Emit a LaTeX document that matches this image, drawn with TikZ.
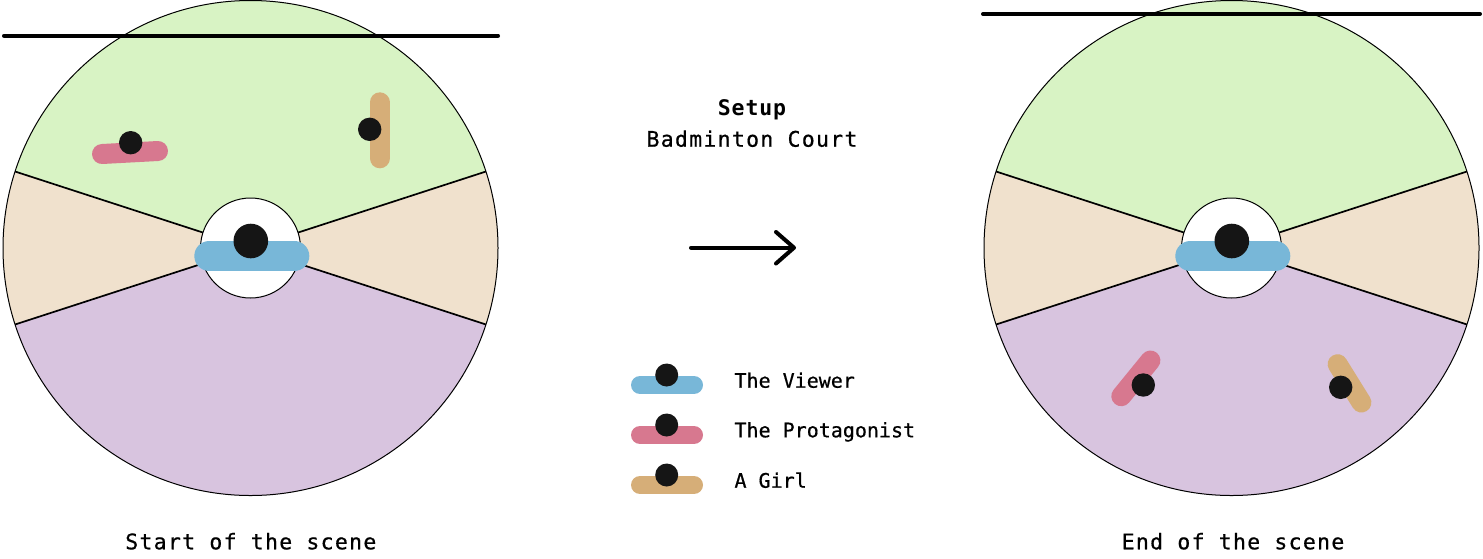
\documentclass[tikz,border=0pt]{standalone}
\usepackage{fontspec}
\newfontfamily\mono[FakeBold=0.6]{DejaVu Sans Mono}
\newfontfamily\monols[LetterSpace=6,FakeBold=0.6]{DejaVu Sans Mono}
\newfontfamily\monobd[LetterSpace=4]{DejaVu Sans Mono}
\definecolor{courtgreen}{HTML}{D8F3C4}
\definecolor{courtbeige}{HTML}{F0E1CD}
\definecolor{courtpurple}{HTML}{D8C4DF}
\definecolor{viewerblue}{HTML}{78B7D8}
\definecolor{protpink}{HTML}{D7788F}
\definecolor{girltan}{HTML}{D6AE78}
\definecolor{dotblack}{HTML}{151515}
\newcommand\courtplan[1]{%
\begin{scope}[shift={(#1,248)}]
\fill[courtgreen] (18:50pt) -- (18:247.5pt) arc[start angle=18,end angle=162,radius=247.5pt] -- (162:50pt) arc[start angle=162,end angle=18,radius=50pt] -- cycle;
\fill[courtbeige] (-18:50pt) -- (-18:247.5pt) arc[start angle=-18,end angle=18,radius=247.5pt] -- (18:50pt) arc[start angle=18,end angle=-18,radius=50pt] -- cycle;
\fill[courtbeige] (162:50pt) -- (162:247.5pt) arc[start angle=162,end angle=198,radius=247.5pt] -- (198:50pt) arc[start angle=198,end angle=162,radius=50pt] -- cycle;
\fill[courtpurple] (198:50pt) -- (198:247.5pt) arc[start angle=198,end angle=342,radius=247.5pt] -- (342:50pt) arc[start angle=342,end angle=198,radius=50pt] -- cycle;
\foreach \a in {18,162,198,342} \draw[sep] (\a:50pt) -- (\a:247.5pt);
\draw[rim,fill=white] (0,0) circle[radius=50pt];
\draw[rim] (0,0) circle[radius=247.5pt];
\draw[bar,viewerblue,line width=30pt] (-41.2,8) -- (43.8,8);
\fill[dotblack] (0.3,-7) circle[radius=17.3pt];
\end{scope}}
\begin{document}
\begin{tikzpicture}[x=1pt,y=-1pt,
  bar/.style={line width=20pt,line cap=round},
  legbar/.style={line width=18pt,line cap=round},
  sep/.style={line width=1.7pt},
  rim/.style={line width=1pt},
  net/.style={line width=4pt,line cap=round},
  lbl/.style={inner sep=0pt,anchor=base,font=\fontsize{21.5}{24}\monols},
  leg/.style={inner sep=0pt,anchor=base west,font=\fontsize{20}{24}\mono}]
\useasboundingbox (0,0) rectangle (1483,558);
% left court
\courtplan{250.5}
\draw[bar,protpink] (102,154) -- (158,151);
\fill[dotblack] (130.7,142.7) circle[radius=11.7pt];
\draw[bar,girltan] (379.7,102.3) -- (379.7,158.3);
\fill[dotblack] (369.7,129.3) circle[radius=11.7pt];
\coordinate (netLa) at (4,35.7);
\coordinate (netLb) at (498,35.7);
\draw[net] (netLa) -- (netLb);
% right court
\courtplan{1231.5}
\draw[bar,protpink] (1121.3,396.2) -- (1150.4,360.5);
\fill[dotblack] (1143.3,385) circle[radius=11.7pt];
\draw[bar,girltan] (1337.6,364.2) -- (1361.4,402.5);
\fill[dotblack] (1340.7,387.3) circle[radius=11.7pt];
\coordinate (netRa) at (983,14);
\coordinate (netRb) at (1480,14);
\draw[net] (netRa) -- (netRb);
% title
\node[inner sep=0pt,anchor=base,font=\fontsize{21.5}{24}\monobd\bfseries] (setup) at (752,115) {Setup};
\node[lbl] (court) at (752,146.7) {Badminton Court};
% arrow
\coordinate (arrA) at (691,247.7);
\coordinate (arrB) at (792,247.7);
\draw[line width=4pt,line cap=round,line join=round] (arrA) -- (arrB);
\draw[line width=4pt,line cap=round,line join=round] (776,232) -- (794,247.7) -- (776,263.5);
% legend
\draw[legbar,viewerblue] (640,385) -- (694,385);
\fill[dotblack] (666.7,375) circle[radius=11.5pt];
\node[leg] (lv) at (734.3,387.7) {The Viewer};
\draw[legbar,protpink] (640,435) -- (694,435);
\fill[dotblack] (666.7,425) circle[radius=11.5pt];
\node[leg] (lp) at (734.3,437.3) {The Protagonist};
\draw[legbar,girltan] (640,485) -- (694,485);
\fill[dotblack] (666.7,475) circle[radius=11.5pt];
\node[leg] (lg) at (734.3,487.7) {A Girl};
% captions
\node[lbl] (start) at (250.8,549.3) {Start of the scene};
\node[lbl] (end) at (1233,549.3) {End of the scene};
\end{tikzpicture}
\end{document}
